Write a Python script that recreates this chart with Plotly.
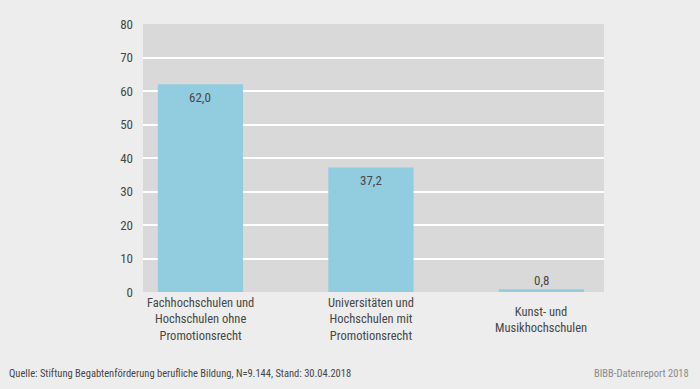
import plotly.graph_objects as go

categories = [
    "Fachhochschulen und<br>Hochschulen ohne<br>Promotionsrecht",
    "Universitäten und<br>Hochschulen mit<br>Promotionsrecht",
    "Kunst- und<br>Musikhochschulen",
]
values = [62.0, 37.2, 0.8]
y_ticks = [0, 10, 20, 30, 40, 50, 60, 70, 80]
source_text = "Quelle: Stiftung Begabtenförderung berufliche Bildung, N=9.144, Stand: 30.04.2018"
brand_text = "BIBB-Datenreport 2018"

FONT = "Roboto Condensed, DejaVu Sans Condensed, sans-serif"
TXT = "#474747"

# plot area in pixels: left 143, right 604, top 24, bottom 292
L, R, T, B = 143, 604, 24, 292
PW, PH = R - L, B - T

fig = go.Figure()
fig.add_trace(go.Bar(
    x=list(range(len(categories))), y=values,
    marker=dict(color="#92cddf", line=dict(width=0)),
    width=0.5,
    hoverinfo="skip",
))

annotations = []
for i, (c, v) in enumerate(zip(categories, values)):
    inside = v > 5
    annotations.append(dict(
        x=i, y=v, xref="x", yref="y",
        text=f"{v:.1f}".replace(".", ","),
        showarrow=False,
        yanchor="top" if inside else "bottom",
        yshift=-4 if inside else -1,
        font=dict(family=FONT, size=13, color=TXT),
    ))
    annotations.append(dict(
        x=i, y=(B - 319) / PH, xref="x", yref="paper",
        text=c, showarrow=False, yanchor="middle", align="center",
        font=dict(family=FONT, size=12.5, color=TXT),
    ))

annotations += [
    dict(xref="paper", yref="paper", x=(7 - L) / PW, y=(B - 373) / PH,
         xanchor="left", yanchor="middle", showarrow=False,
         text=source_text, font=dict(family=FONT, size=10.5, color=TXT)),
    dict(xref="paper", yref="paper", x=(691 - L) / PW, y=(B - 373) / PH,
         xanchor="right", yanchor="middle", showarrow=False,
         text=brand_text, font=dict(family=FONT, size=10.5, color="#8a8a8a")),
]

fig.update_layout(
    width=700, height=389,
    margin=dict(l=L, r=700 - R, t=T, b=389 - B),
    paper_bgcolor="#ededed",
    plot_bgcolor="#d9d9d9",
    showlegend=False,
    separators=",.",
    font=dict(family=FONT, size=13, color=TXT),
    xaxis=dict(
        range=[-0.337, 2.367], showticklabels=False,
        showgrid=False, showline=False, zeroline=False, ticks="",
        fixedrange=True,
    ),
    yaxis=dict(
        range=[0, 80], tickvals=y_ticks,
        showgrid=True, gridcolor="#ffffff", gridwidth=1.5,
        zeroline=False, showline=False, ticks="",
        ticklabelstandoff=9, fixedrange=True,
        tickfont=dict(family=FONT, size=13, color=TXT),
    ),
    annotations=annotations,
)

fig.write_html("out.html", config={"displayModeBar": False},
               post_script="document.body.style.margin='0';")
